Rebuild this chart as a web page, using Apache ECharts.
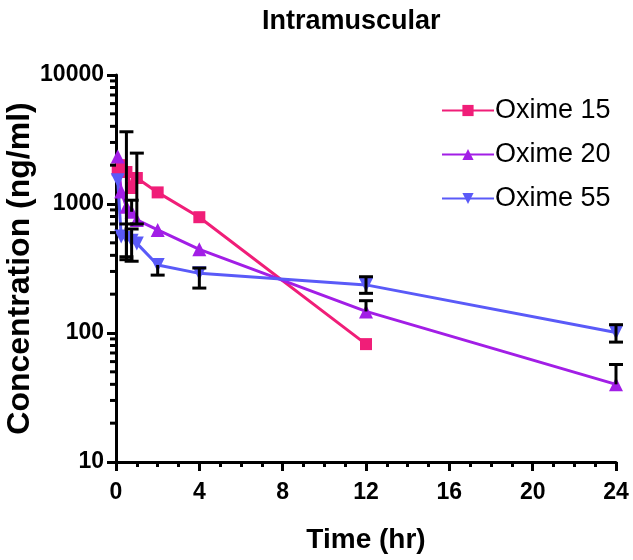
<!DOCTYPE html>
<html>
<head>
<meta charset="utf-8">
<script src="https://cdn.jsdelivr.net/npm/echarts@6/dist/echarts.min.js"></script>
<style>
html,body{margin:0;padding:0;background:#fff;}
#chart{width:633px;height:560px;}
</style>
</head>
<body>
<div id="chart"></div>
<script>
// ---- data ----
var times = [0.083, 0.25, 0.5, 0.75, 1, 2, 4, 12, 24];
var seriesNames = ['Oxime 15', 'Oxime 20', 'Oxime 55'];
var oxime15 = [1830, 2000, 1770, 1330, 1590, 1230, 790, 82, null];
var oxime20 = [2330, 1250, 950, 870, 752, 630, 445, 147, 40];
var oxime55 = [1530, 560, 545, 520, 495, 337, 290, 236, 101];
// error bar ends [time, mean, low, high] (null = no bar on that side)
var err15 = [[0.5, 1770, 370, 3630], [1, 1590, 700, 2480]];
var err20 = [[0.75, 870, null, 1070], [12, 147, null, 178], [24, 40, null, 57]];
var err55 = [[0.5, 545, 390, 700], [0.75, 520, 360, 640], [2, 337, 281, null], [4, 290, 223, 319], [12, 236, 203, 273], [24, 101, 85, 116]];
var xTicks = [0, 4, 8, 12, 16, 20, 24];
var yTicks = [10, 100, 1000, 10000];
var yMinorTicks = [20,30,40,50,60,70,80,90,200,300,400,500,600,700,800,900,2000,3000,4000,5000,6000,7000,8000,9000];

var colors = ['#F01E78', '#A21EE6', '#5A5AF8'];
var symbols = ['rect', 'triangle', 'path://M0,0 L10,0 L5,10 Z'];
var symbolSizes = [12, 14, 14];

function pairs(vals) {
  var out = [];
  for (var i = 0; i < times.length; i++) {
    if (vals[i] != null) out.push([times[i], vals[i]]);
  }
  return out;
}

function errRender(params, api) {
  var t = api.value(0), m = api.value(1), lo = api.value(2), hi = api.value(3);
  var hasLo = !isNaN(lo) && lo !== null && lo !== '-';
  var hasHi = !isNaN(hi) && hi !== null && hi !== '-';
  var pm = api.coord([t, m]);
  var x = pm[0];
  var yTop = hasHi ? api.coord([t, hi])[1] : pm[1];
  var yBot = hasLo ? api.coord([t, lo])[1] : pm[1];
  var st = {stroke: '#000', lineWidth: 3};
  var hw = 7;
  var children = [{type: 'line', shape: {x1: x, y1: yTop, x2: x, y2: yBot}, style: st}];
  if (hasHi) children.push({type: 'line', shape: {x1: x - hw, y1: yTop, x2: x + hw, y2: yTop}, style: st});
  if (hasLo) children.push({type: 'line', shape: {x1: x - hw, y1: yBot, x2: x + hw, y2: yBot}, style: st});
  return {type: 'group', children: children};
}

function minorTickRender(params, api) {
  var p = api.coord([0, api.value(1)]);
  return {type: 'line', shape: {x1: p[0] - 6, y1: p[1], x2: p[0], y2: p[1]}, style: {stroke: '#000', lineWidth: 3}};
}

var allVals = [oxime15, oxime20, oxime55];
var allErr = [err15, err20, err55];
var series = [];
for (var s = 0; s < 3; s++) {
  series.push({
    name: seriesNames[s],
    type: 'line',
    data: pairs(allVals[s]),
    symbol: symbols[s],
    symbolSize: symbolSizes[s],
    showAllSymbol: true,
    lineStyle: {color: colors[s], width: 3},
    itemStyle: {color: colors[s]},
    z: 3
  });
}
for (var s2 = 0; s2 < 3; s2++) {
  series.push({
    name: 'err' + s2,
    type: 'custom',
    renderItem: errRender,
    data: allErr[s2],
    encode: {x: 0, y: 1},
    z: 5,
    silent: true
  });
}
series.push({
  name: 'yminor',
  type: 'custom',
  renderItem: minorTickRender,
  data: yMinorTicks.map(function (v) { return [0, v]; }),
  encode: {x: 0, y: 1},
  clip: false,
  z: 6,
  silent: true
});

var chart = echarts.init(document.getElementById('chart'), null, {renderer: 'canvas'});
chart.setOption({
  animation: false,
  backgroundColor: '#fff',
  title: {
    text: 'Intramuscular',
    left: 257,
    top: 3,
    textStyle: {fontFamily: 'Liberation Sans', fontWeight: 'bold', fontSize: 27, color: '#000'}
  },
  legend: {
    data: seriesNames,
    orient: 'vertical',
    left: 436,
    top: 92,
    itemWidth: 52,
    itemHeight: 14,
    itemGap: 17,
    textStyle: {fontFamily: 'Liberation Sans', fontSize: 27, color: '#000', padding: [0, 0, 0, -4]}
  },
  grid: {left: 116, right: 17, top: 75, bottom: 98, containLabel: false, outerBoundsMode: 'none'},
  xAxis: {
    type: 'value',
    min: 0,
    max: 24,
    interval: 4,
    name: 'Time (hr)',
    nameLocation: 'middle',
    nameGap: 64,
    nameMoveOverlap: false,
    nameTextStyle: {fontFamily: 'Liberation Sans', fontWeight: 'bold', fontSize: 28, color: '#000'},
    axisLine: {show: true, lineStyle: {color: '#000', width: 3}},
    axisTick: {show: true, length: 9, lineStyle: {color: '#000', width: 3}},
    minorTick: {show: true, splitNumber: 4, length: 5, lineStyle: {color: '#000', width: 3}},
    axisLabel: {
      margin: 19,
      fontFamily: 'Liberation Sans', fontWeight: 'bold', fontSize: 23, color: '#000',
      formatter: function (v) { return xTicks.indexOf(v) >= 0 ? String(v) : ''; }
    },
    splitLine: {show: false},
    minorSplitLine: {show: false}
  },
  yAxis: {
    type: 'log',
    logBase: 10,
    min: 10,
    max: 10000,
    name: 'Concentration (ng/ml)',
    nameLocation: 'middle',
    nameGap: 80,
    nameMoveOverlap: false,
    nameRotate: 90,
    nameTextStyle: {fontFamily: 'Liberation Sans', fontWeight: 'bold', fontSize: 32, color: '#000'},
    axisLine: {show: true, lineStyle: {color: '#000', width: 3}},
    axisTick: {show: true, length: 9, lineStyle: {color: '#000', width: 3}},
    minorTick: {show: false},
    axisLabel: {
      margin: 12,
      fontFamily: 'Liberation Sans', fontWeight: 'bold', fontSize: 23, color: '#000',
      formatter: function (v) { return yTicks.indexOf(Math.round(v)) >= 0 ? String(Math.round(v)) : ''; }
    },
    splitLine: {show: false}
  },
  series: series
});
</script>
</body>
</html>
